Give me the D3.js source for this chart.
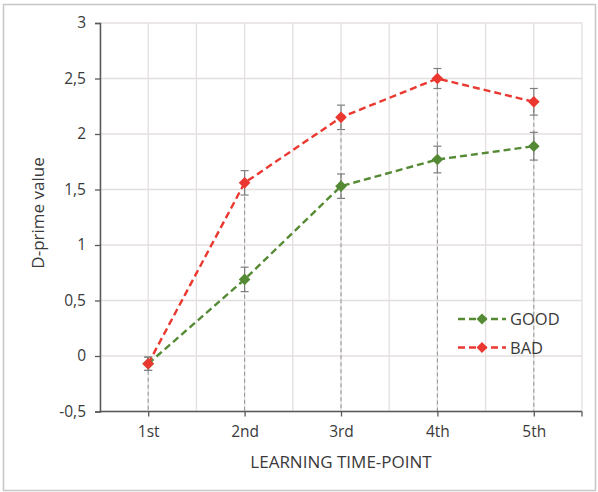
<!DOCTYPE html>
<html><head><meta charset="utf-8">
<script src="https://cdn.jsdelivr.net/npm/d3@7"></script>
<style>body{margin:0;background:#fff}svg{display:block}text{font-family:"Open Sans",Lato,sans-serif;fill:#3a3a3a}</style>
</head><body><svg id="c" width="598" height="492"></svg>
<script>
const categories = ["1st","2nd","3rd","4th","5th"];
const goodValues = [-0.07, 0.69, 1.53, 1.77, 1.89];
const goodErrors = [0.06, 0.11, 0.11, 0.12, 0.125];
const badValues = [-0.07, 1.56, 2.15, 2.50, 2.29];
const badErrors = [0.06, 0.11, 0.11, 0.09, 0.12];
const yTicks = [-0.5, 0, 0.5, 1, 1.5, 2, 2.5, 3];
const seriesNames = ["GOOD", "BAD"];

const FONT = "'Open Sans',Lato,sans-serif";
const svg = d3.select("#c");
const L = 100, R = 582, T = 23, B = 411.5;
const x = d3.scaleBand().domain(categories).range([L, R]).padding(0);
const cx = c => x(c) + x.bandwidth() / 2;
const y = d3.scaleLinear().domain([-0.5, 3]).range([B, T]);
const fmt = v => String(v).replace(".", ",");

// outer border
svg.append("rect").attr("x", 3.5).attr("y", 4.5).attr("width", 592).attr("height", 486)
  .attr("fill", "none").attr("stroke", "#c9c6c6").attr("stroke-width", 1.5);

// gridlines
const grid = svg.append("g").attr("stroke", "#e4dfdf").attr("stroke-width", 1.3);
yTicks.forEach(t => grid.append("line").attr("x1", L).attr("x2", R).attr("y1", y(t)).attr("y2", y(t)));
const vx = [];
categories.forEach(c => { vx.push(x(c)); vx.push(cx(c)); });
vx.push(R);
vx.forEach(v => grid.append("line").attr("x1", v).attr("x2", v).attr("y1", T).attr("y2", B));

// drop lines
categories.forEach((c, i) => {
  const top = Math.max(goodValues[i], badValues[i]);
  svg.append("line").attr("x1", cx(c)).attr("x2", cx(c)).attr("y1", y(top)).attr("y2", B)
    .attr("stroke", "#9a9a9a").attr("stroke-width", 1.1).attr("stroke-dasharray", "4,3");
});

// axes
const yAxis = d3.axisLeft(y).tickValues(yTicks).tickSize(5).tickPadding(9).tickFormat(fmt);
const gy = svg.append("g").attr("transform", `translate(${L},0)`).call(yAxis);
gy.select(".domain").attr("stroke", "#595959").attr("stroke-width", 1.5);
gy.selectAll(".tick line").attr("stroke", "#595959").attr("stroke-width", 1.3);
gy.selectAll(".tick text").attr("font-size", 15.5).style("font-family", FONT).attr("fill", "#3a3a3a");

const xAxisScale = d3.scalePoint().domain(categories).range([cx(categories[0]), cx(categories[4])]);
const xAxis = d3.axisBottom(xAxisScale).tickSize(5).tickPadding(9).tickSizeOuter(0);
const gx = svg.append("g").attr("transform", `translate(0,${B})`).call(xAxis);
gx.select(".domain").remove();
gx.append("line").attr("x1", L).attr("x2", R).attr("stroke", "#595959").attr("stroke-width", 1.5);
gx.append("line").attr("x1", R).attr("x2", R).attr("y1", 0).attr("y2", 5).attr("stroke", "#595959").attr("stroke-width", 1.3);
gx.selectAll(".tick line").attr("stroke", "#595959").attr("stroke-width", 1.3);
gx.selectAll(".tick text").attr("font-size", 15.5).style("font-family", FONT).attr("fill", "#3a3a3a");

// axis titles
svg.append("text").attr("x", 341).attr("y", 467.5).attr("text-anchor", "middle")
  .attr("font-size", 17).text("LEARNING TIME-POINT");
svg.append("text").attr("transform", "translate(44,213) rotate(-90)").attr("text-anchor", "middle")
  .attr("font-size", 17).text("D-prime value");

const colors = {GOOD: "#558a35", BAD: "#ea3830"};

function drawSeries(vals, errs, color) {
  const g = svg.append("g");
  categories.forEach((c, i) => {
    const xx = cx(c), y1 = y(vals[i] + errs[i]), y2 = y(vals[i] - errs[i]);
    g.append("line").attr("x1", xx).attr("x2", xx).attr("y1", y1).attr("y2", y2).attr("stroke", "#7f7f7f").attr("stroke-width", 1.2);
    [y1, y2].forEach(yy => g.append("line").attr("x1", xx - 4).attr("x2", xx + 4).attr("y1", yy).attr("y2", yy).attr("stroke", "#7f7f7f").attr("stroke-width", 1.2));
  });
  const line = d3.line().x((d, i) => cx(categories[i])).y(d => y(d));
  g.append("path").datum(vals).attr("d", line).attr("fill", "none").attr("stroke", color)
    .attr("stroke-width", 2.4).attr("stroke-dasharray", "7,4");
  vals.forEach((v, i) => {
    g.append("path").attr("d", d3.symbol().type(d3.symbolSquare).size(68)())
      .attr("transform", `translate(${cx(categories[i])},${y(v)}) rotate(45)`).attr("fill", color);
  });
}
drawSeries(goodValues, goodErrors, colors.GOOD);
drawSeries(badValues, badErrors, colors.BAD);

// legend
const legendY = [319, 347.5];
seriesNames.forEach((name, i) => {
  const g = svg.append("g").attr("transform", `translate(0,${legendY[i]})`);
  g.append("line").attr("x1", 458).attr("x2", 506).attr("stroke", colors[name]).attr("stroke-width", 2.4).attr("stroke-dasharray", "7,4");
  g.append("path").attr("d", d3.symbol().type(d3.symbolSquare).size(60)())
    .attr("transform", "translate(482,0) rotate(45)").attr("fill", colors[name]);
  g.append("text").attr("x", 510).attr("y", 6).attr("font-size", 16.5).text(name);
});
</script></body></html>
